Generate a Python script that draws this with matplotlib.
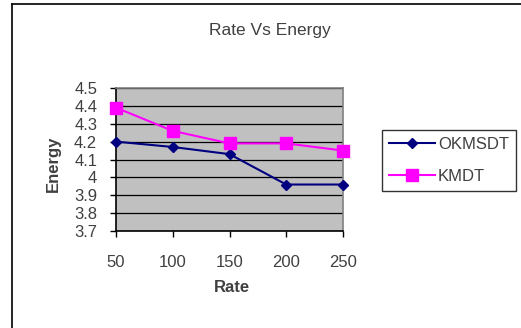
import matplotlib.pyplot as plt
from matplotlib.lines import Line2D

plt.rcParams['font.family'] = ['Liberation Sans', 'DejaVu Sans']

# rate vs energy values for both schemes
rate = [50, 100, 150, 200, 250]
okmsdt = [4.20, 4.17, 4.13, 3.96, 3.96]
kmdt = [4.39, 4.26, 4.19, 4.19, 4.15]
yticks = [3.7, 3.8, 3.9, 4.0, 4.1, 4.2, 4.3, 4.4, 4.5]
ytick_labels = ['3.7', '3.8', '3.9', '4', '4.1', '4.2', '4.3', '4.4', '4.5']

W, H = 521, 328
fig = plt.figure(figsize=(W / 100, H / 100), dpi=100)
fig.patch.set_facecolor('white')

# chart border, only left and top edges fall inside the image
left_x = 12 / W
top_y = 1 - 4 / H
fig.add_artist(Line2D([left_x, left_x], [0, top_y], transform=fig.transFigure,
                      color='black', linewidth=1.2))
fig.add_artist(Line2D([left_x, 1], [top_y, top_y], transform=fig.transFigure,
                      color='black', linewidth=1.2))

ax = fig.add_axes([116 / W, 1 - 231 / H, 227 / W, 143 / H])
ax.set_facecolor('#c0c0c0')

x = list(range(len(rate)))
ax.plot(x, okmsdt, color='#000080', marker='D', markersize=5.5, linewidth=1.5,
        label='OKMSDT', clip_on=False, zorder=3)
ax.plot(x, kmdt, color='#ff00ff', marker='s', markersize=8, linewidth=1.5,
        label='KMDT', clip_on=False, zorder=3)

ax.set_xlim(0, len(rate) - 1)
ax.set_ylim(3.7, 4.5)
ax.set_xticks(x)
ax.set_xticklabels([str(r) for r in rate])
ax.set_yticks(yticks)
ax.set_yticklabels(ytick_labels)
ax.yaxis.grid(True, color='black', linewidth=0.9)
ax.set_axisbelow(True)

for side in ['top', 'right']:
    ax.spines[side].set_color('#808080')
    ax.spines[side].set_linewidth(1.2)
for side in ['left', 'bottom']:
    ax.spines[side].set_color('black')
    ax.spines[side].set_linewidth(1.2)

ax.tick_params(axis='both', direction='out', length=4.5, width=1,
               colors='black', labelcolor='#404040', labelsize=12)
ax.tick_params(axis='x', pad=13)
ax.tick_params(axis='y', pad=9)

ax.set_xlabel('Rate', fontsize=12, fontweight='bold', color='#404040')
ax.set_ylabel('Energy', fontsize=12, fontweight='bold', color='#404040')
ax.xaxis.set_label_coords((231.5 - 116) / 227, (231 - 288) / 143)
ax.yaxis.set_label_coords((53 - 116) / 227, (231 - 164) / 143)
ax.xaxis.label.set_va('center')
ax.yaxis.label.set_va('center')

fig.text(270 / W, 1 - 31 / H, 'Rate Vs Energy', ha='center', va='center',
         fontsize=12.5, color='#404040')

leg = fig.legend(loc='upper left', bbox_to_anchor=(382 / W, 1 - 130 / H),
                 fontsize=12, frameon=True, fancybox=False, handlelength=2.8,
                 borderpad=0.4, labelspacing=1.05, handletextpad=0.15,
                 borderaxespad=0)
leg.get_frame().set_edgecolor('black')
leg.get_frame().set_linewidth(1)
for t in leg.get_texts():
    t.set_color('#404040')

fig.savefig('out.png', dpi=100)
